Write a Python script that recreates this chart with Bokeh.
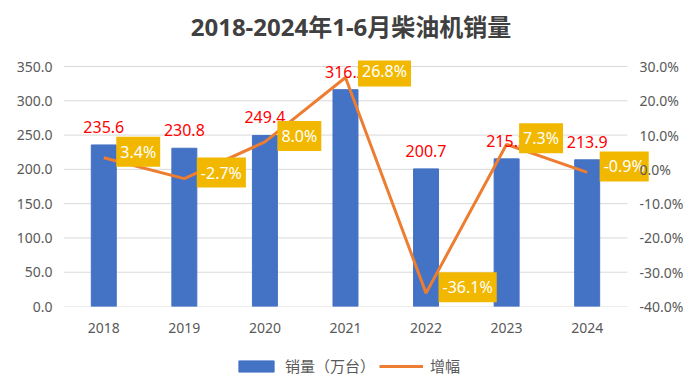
from bokeh.plotting import figure
from bokeh.layouts import column
from bokeh.models import (Range1d, LinearAxis, FixedTicker, NumeralTickFormatter,
                          ColumnDataSource, Legend, LegendItem, Label)
from bokeh.core.properties import value
from bokeh.embed import file_html
from bokeh.resources import INLINE

# ---- data ----
years = ["2018", "2019", "2020", "2021", "2022", "2023", "2024"]
sales = [235.6, 230.8, 249.4, 316.2, 200.7, 215.3, 213.9]      # 万台
growth = [3.4, -2.7, 8.0, 26.8, -36.1, 7.3, -0.9]              # %
left_ticks = [0, 50, 100, 150, 200, 250, 300, 350]
right_ticks = [-40, -30, -20, -10, 0, 10, 20, 30]
title_text = "2018-2024年1-6月柴油机销量"
legend_sales = "销量（万台）"
legend_growth = "增幅"

n = len(years)
xs = list(range(n))
src = ColumnDataSource(dict(
    x=xs,
    sales=sales,
    g=[v / 100 for v in growth],
    sales_text=[f"{v:.1f}" for v in sales],
    g_text=[f"{v:.1f}%" for v in growth],
))

LATIN = "Noto Sans, Noto Sans CJK SC"
GREY = "#595959"
GOLD = "#F2B800"
BLUE = "#4472C4"
ORANGE = "#ED7D31"
NAN = float("nan")


def blank(fig):
    fig.axis.visible = False
    fig.grid.visible = False
    fig.outline_line_color = None
    fig.border_fill_color = "white"
    fig.background_fill_color = "white"


# ---- title strip ----
ts = figure(width=700, height=46, x_range=Range1d(0, 1), y_range=Range1d(0, 1),
            output_backend="svg", toolbar_location=None, min_border=0)
blank(ts)
ts.add_layout(Label(x=0.4816, y=0.44, text=title_text, text_align="center",
                    text_baseline="middle", text_font=LATIN, text_font_size="24px",
                    text_font_style="bold", text_color="#404040"))

# ---- main chart ----
# left axis 0..350 maps onto right axis -40%..30%; a little headroom above so labels are not cut
head = 8.75
y_top = 350 + head
pct_top = 0.3 + head * 0.7 / 350

p = figure(width=700, height=304, x_range=Range1d(-0.5, n - 0.5 + 0.41), y_range=Range1d(0, y_top),
           output_backend="svg", toolbar_location=None,
           min_border_left=63, min_border_right=40, min_border_top=14, min_border_bottom=44)
p.title = None
p.extra_y_ranges = {"pct": Range1d(-0.4, pct_top)}
p.outline_line_color = None
p.background_fill_color = "white"
p.border_fill_color = "white"

# horizontal grid lines limited to the category band
p.xgrid.grid_line_color = None
p.ygrid.grid_line_color = None
p.segment(x0=[-0.5] * len(left_ticks), x1=[n - 0.5] * len(left_ticks),
          y0=left_ticks, y1=left_ticks, line_color="#D9D9D9", line_width=1)

bars = p.vbar(x="x", top="sales", width=0.31, source=src,
              fill_color=BLUE, line_color=BLUE)
line = p.line(x="x", y="g", source=src, y_range_name="pct",
              line_color=ORANGE, line_width=3)

p.text(x="x", y="sales", text="sales_text", source=src,
       text_align="center", text_baseline="alphabetic", y_offset=-18,
       text_color="#FF0000", text_font_size="16px", text_font=value("Noto Sans"))

p.text(x="x", y="g", text="g_text", source=src, y_range_name="pct",
       text_align="left", text_baseline="middle", x_offset=12.5, y_offset=-6,
       text_color="white", text_font_size="16px", text_font=value("Noto Sans"),
       background_fill_color=GOLD, padding=4)

# axes
p.xaxis.ticker = FixedTicker(ticks=xs)
p.xaxis.major_label_overrides = {i: y for i, y in zip(xs, years)}
p.xaxis.major_label_standoff = 16

p.yaxis.ticker = FixedTicker(ticks=left_ticks)
p.yaxis.formatter = NumeralTickFormatter(format="0.0")
p.yaxis.major_label_standoff = 11

right = LinearAxis(y_range_name="pct", ticker=FixedTicker(ticks=[t / 100 for t in right_ticks]),
                   formatter=NumeralTickFormatter(format="0.0%"))
right.major_label_standoff = -21
p.add_layout(right, "right")

for ax in p.xaxis + p.yaxis + [right]:
    ax.axis_line_color = None
    ax.major_tick_line_color = None
    ax.minor_tick_line_color = None
    ax.major_tick_out = 0
    ax.major_tick_in = 0
    ax.major_label_text_font = LATIN
    ax.major_label_text_font_size = "14px"
    ax.major_label_text_color = GREY

# ---- legend strip below the chart ----
lg = figure(width=700, height=41, x_range=Range1d(0, 1), y_range=Range1d(0, 1),
            output_backend="svg", toolbar_location=None, min_border=0)
blank(lg)
lr_bar = lg.vbar(x=[NAN], top=[NAN], width=0.1, fill_color=BLUE, line_color=BLUE)
lr_line = lg.line(x=[NAN, NAN], y=[NAN, NAN], line_color=ORANGE, line_width=3)
legend = Legend(items=[LegendItem(label=legend_sales, renderers=[lr_bar]),
                       LegendItem(label=legend_growth, renderers=[lr_line])],
                orientation="horizontal", location=(171, 15),
                glyph_width=44, glyph_height=14, label_standoff=7, spacing=4,
                padding=0, margin=0, border_line_color=None, background_fill_alpha=0,
                label_text_font="Noto Sans CJK SC", label_text_font_size="15px",
                label_text_color=GREY)
lg.add_layout(legend)

layout = column(ts, p, lg, spacing=0)
open("out.html", "w").write(file_html(layout, INLINE))
